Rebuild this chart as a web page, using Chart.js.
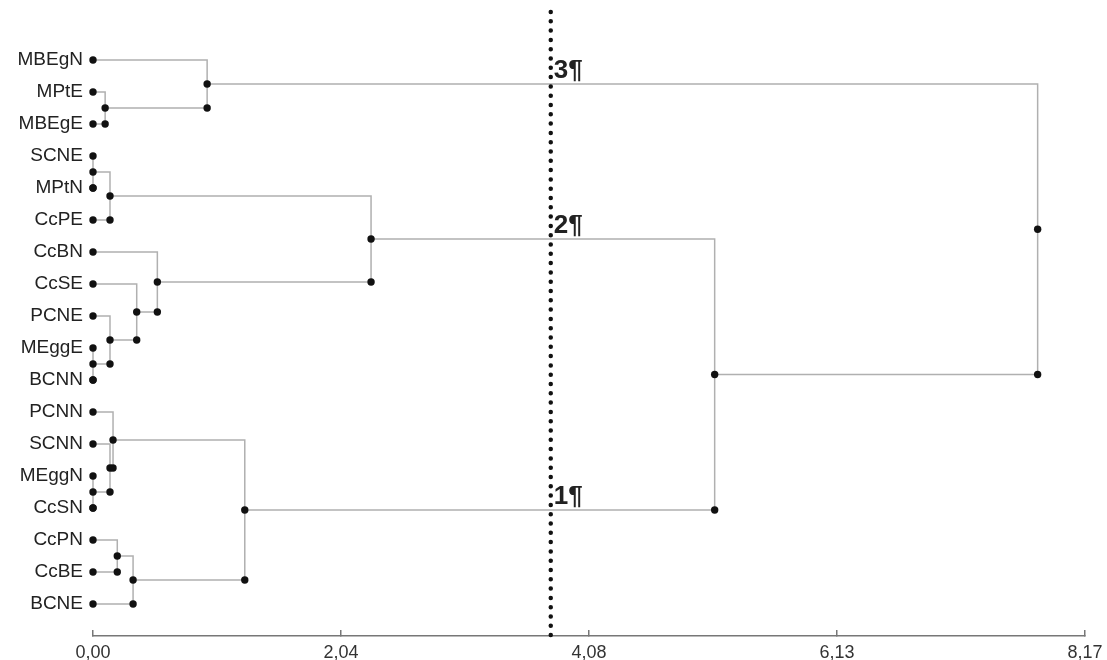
<!DOCTYPE html>
<html>
<head>
<meta charset="utf-8">
<script src="https://cdn.jsdelivr.net/npm/chart.js@4"></script>
<style>
  body { margin: 0; background: #fff; }
  #wrap { width: 1107px; height: 660px; }
</style>
</head>
<body>
<div id="wrap"><canvas id="dendro"></canvas></div>
<script>
// leaves from top to bottom
const leafNames = ['MBEgN', 'MPtE', 'MBEgE', 'SCNE', 'MPtN', 'CcPE', 'CcBN', 'CcSE', 'PCNE',
    'MEggE', 'BCNN', 'PCNN', 'SCNN', 'MEggN', 'CcSN', 'CcPN', 'CcBE', 'BCNE'];
// ids 0-17 are leaves, merge k makes node 18 + k
const mergeLeft = [1, 0, 3, 20, 9, 8, 7, 6, 21, 13, 12, 11, 15, 30, 29, 26, 19];
const mergeRight = [2, 18, 4, 5, 10, 22, 23, 24, 25, 14, 27, 28, 16, 17, 31, 32, 33];
const mergeHeight = [0.10, 0.94, 0.00, 0.14, 0.00, 0.14, 0.36, 0.53, 2.29, 0.00, 0.14, 0.165,
    0.20, 0.33, 1.25, 5.12, 7.78];
const cutHeight = 3.77;
const groupNodes = [19, 26, 32];
const groupLabels = ['3¶', '2¶', '1¶'];
const xTicks = [0, 2.0425, 4.085, 6.1275, 8.17];

const yMin = -1.5, yMax = 18;

const nodeX = leafNames.map(() => 0);
const nodeY = leafNames.map((_, i) => i);
mergeHeight.forEach((h, k) => {
    nodeX.push(h);
    nodeY.push((nodeY[mergeLeft[k]] + nodeY[mergeRight[k]]) / 2);
});

const elbows = mergeHeight.map((h, k) => {
    const a = mergeLeft[k], b = mergeRight[k];
    return {
        data: [
            {x: nodeX[a], y: nodeY[a]},
            {x: h, y: nodeY[a]},
            {x: h, y: nodeY[b]},
            {x: nodeX[b], y: nodeY[b]}
        ],
        showLine: true,
        borderColor: '#b0b0b0',
        borderWidth: 1.5,
        pointRadius: 0,
        clip: false
    };
});

const dots = leafNames.map((_, i) => ({x: 0, y: i}));
mergeHeight.forEach((h, k) => {
    const bottom = Math.max(nodeY[mergeLeft[k]], nodeY[mergeRight[k]]);
    dots.push({x: h, y: nodeY[18 + k]});
    dots.push({x: h, y: bottom});
});

const noPad = axis => {
    axis.paddingLeft = axis.paddingRight = axis.paddingTop = axis.paddingBottom = 0;
};

const groupText = {
    id: 'groupText',
    afterDatasetsDraw(chart) {
        const ctx = chart.ctx;
        const xs = chart.scales.x, ys = chart.scales.y;
        ctx.save();
        ctx.font = 'bold 26px "Liberation Sans", Arial, sans-serif';
        ctx.fillStyle = '#222';
        ctx.textAlign = 'left';
        ctx.textBaseline = 'alphabetic';
        groupNodes.forEach((n, i) => {
            ctx.fillText(groupLabels[i], xs.getPixelForValue(cutHeight) + 3, ys.getPixelForValue(nodeY[n]) - 6);
        });
        ctx.restore();
    }
};

new Chart(document.getElementById('dendro'), {
    type: 'scatter',
    data: {
        datasets: [
            {
                data: dots,
                pointRadius: 3.7,
                pointBackgroundColor: '#111',
                pointBorderWidth: 0,
                clip: false
            },
            {
                data: [{x: cutHeight, y: yMin}, {x: cutHeight, y: yMax}],
                showLine: true,
                borderColor: '#111',
                borderWidth: 4.5,
                borderDash: [0, 9.3],
                borderCapStyle: 'round',
                pointRadius: 0,
                clip: false
            },
            ...elbows
        ]
    },
    options: {
        responsive: true,
        maintainAspectRatio: false,
        animation: false,
        layout: { padding: { top: 12, right: 22, left: 0, bottom: 0 } },
        plugins: { legend: { display: false }, tooltip: { enabled: false } },
        scales: {
            x: {
                type: 'linear',
                min: 0,
                max: 8.17,
                afterBuildTicks: axis => { axis.ticks = xTicks.map(v => ({value: v})); },
                afterFit: axis => { axis.height = 24; noPad(axis); },
                grid: { drawOnChartArea: false, drawTicks: true, tickLength: -6, color: '#777', lineWidth: 1.5 },
                border: { color: '#777', width: 1.5 },
                ticks: {
                    padding: 12,
                    maxRotation: 0,
                    color: '#333',
                    font: { family: '"Liberation Sans", Arial, sans-serif', size: 18 },
                    callback: v => v.toFixed(2).replace('.', ',')
                }
            },
            y: {
                type: 'linear',
                reverse: true,
                min: yMin,
                max: yMax,
                afterBuildTicks: axis => { axis.ticks = leafNames.map((_, i) => ({value: i})); },
                afterFit: axis => { axis.width = 93; noPad(axis); },
                grid: { display: false, drawTicks: false },
                border: { display: false },
                ticks: {
                    padding: 10,
                    color: '#222',
                    font: { family: '"Liberation Sans", Arial, sans-serif', size: 19 },
                    callback: v => leafNames[v]
                }
            }
        }
    },
    plugins: [groupText]
});
</script>
</body>
</html>
